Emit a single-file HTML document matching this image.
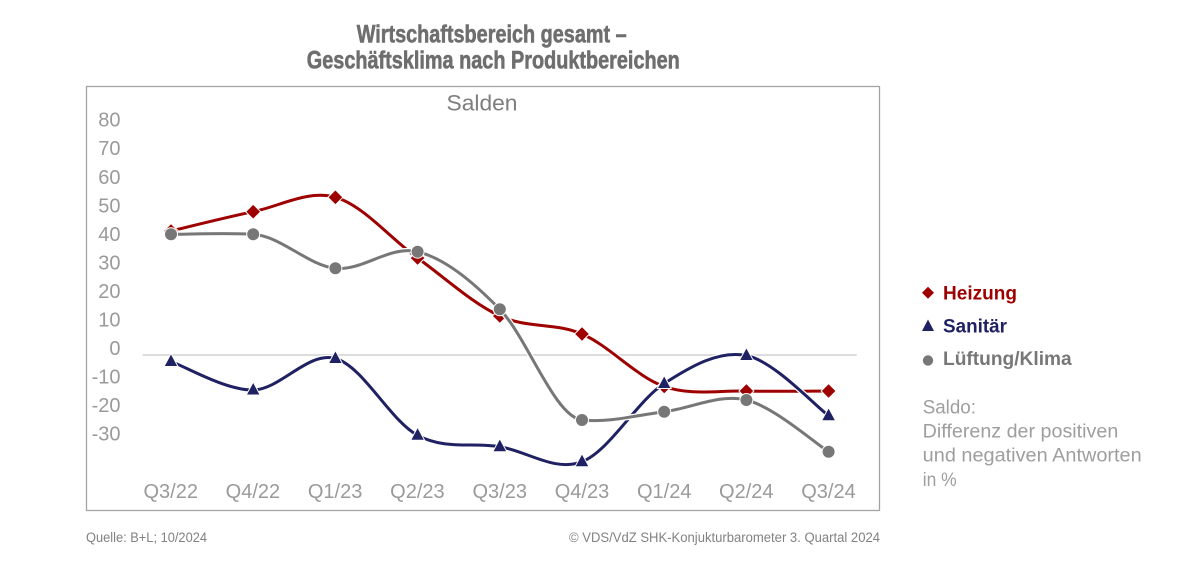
<!DOCTYPE html>
<html>
<head>
<meta charset="utf-8">
<style>
  html, body { margin:0; padding:0; background:#ffffff; }
  body { width:1200px; height:566px; overflow:hidden; }
  svg { display:block; }
  text { font-family: "Liberation Sans", "DejaVu Sans", sans-serif; }
</style>
</head>
<body>
<svg width="1200" height="566" viewBox="0 0 1200 566" xmlns="http://www.w3.org/2000/svg">
  <rect x="0" y="0" width="1200" height="566" fill="#ffffff"/>

  <!-- Title -->
  <text x="491.7" y="42.3" text-anchor="middle" font-size="25" font-weight="bold" fill="#6e6e6e" stroke="#6e6e6e" stroke-width="0.6" textLength="270" lengthAdjust="spacingAndGlyphs">Wirtschaftsbereich gesamt –</text>
  <text x="493.3" y="68.3" text-anchor="middle" font-size="25" font-weight="bold" fill="#6e6e6e" stroke="#6e6e6e" stroke-width="0.6" textLength="373" lengthAdjust="spacingAndGlyphs">Geschäftsklima nach Produktbereichen</text>

  <!-- Plot box -->
  <rect x="86.5" y="86.5" width="793" height="424" fill="none" stroke="#a3a3a3" stroke-width="1.3"/>

  <!-- Subtitle -->
  <text x="482" y="110.5" text-anchor="middle" font-size="22" fill="#7e7e7e" textLength="71" lengthAdjust="spacingAndGlyphs">Salden</text>

  <!-- Y axis labels -->
  <g font-size="20" fill="#9a9a9a" text-anchor="end">
    <text x="120.5" y="126.7">80</text>
    <text x="120.5" y="155.2">70</text>
    <text x="120.5" y="183.8">60</text>
    <text x="120.5" y="212.3">50</text>
    <text x="120.5" y="240.9">40</text>
    <text x="120.5" y="269.4">30</text>
    <text x="120.5" y="298">20</text>
    <text x="120.5" y="326.5">10</text>
    <text x="120.5" y="355">0</text>
    <text x="120.5" y="383.5">-10</text>
    <text x="120.5" y="412.1">-20</text>
    <text x="120.5" y="440.6">-30</text>
  </g>

  <!-- Zero line -->
  <line x1="142.7" y1="355" x2="856.7" y2="355" stroke="#dcdcdc" stroke-width="2"/>

  <!-- X axis labels -->
  <g font-size="20" fill="#9a9a9a" text-anchor="middle">
    <text x="170.7" y="498">Q3/22</text>
    <text x="252.9" y="498">Q4/22</text>
    <text x="335.1" y="498">Q1/23</text>
    <text x="417.4" y="498">Q2/23</text>
    <text x="499.7" y="498">Q3/23</text>
    <text x="582" y="498">Q4/23</text>
    <text x="664.2" y="498">Q1/24</text>
    <text x="746.3" y="498">Q2/24</text>
    <text x="828.5" y="498">Q3/24</text>
  </g>

  <!-- Heizung (red) -->
  <path d="M171,231 C184.7,227.78 225.8,217.32 253.2,211.7 C280.6,206.08 308,189.58 335.4,197.3 C362.8,205.02 390.2,238.22 417.6,258 C445,277.78 472.4,303.33 499.8,316 C527.2,328.67 554.6,322.25 582,334 C609.4,345.75 636.8,377 664.2,386.5 C691.6,396 719,390.25 746.4,391 C773.8,391.75 814.9,391 828.6,391" fill="none" stroke="#ffffff" stroke-width="5.5" stroke-linecap="round"/>
  <path d="M171,231 C184.7,227.78 225.8,217.32 253.2,211.7 C280.6,206.08 308,189.58 335.4,197.3 C362.8,205.02 390.2,238.22 417.6,258 C445,277.78 472.4,303.33 499.8,316 C527.2,328.67 554.6,322.25 582,334 C609.4,345.75 636.8,377 664.2,386.5 C691.6,396 719,390.25 746.4,391 C773.8,391.75 814.9,391 828.6,391" fill="none" stroke="#9e0000" stroke-width="3" stroke-linecap="round"/>
  <g fill="#9e0000" stroke="#ffffff" stroke-width="1">
    <polygon points="171,223.5 178.5,231 171,238.5 163.5,231"/>
    <polygon points="253.2,204.2 260.7,211.7 253.2,219.2 245.7,211.7"/>
    <polygon points="335.4,189.8 342.9,197.3 335.4,204.8 327.9,197.3"/>
    <polygon points="417.6,250.5 425.1,258 417.6,265.5 410.1,258"/>
    <polygon points="499.8,308.5 507.3,316 499.8,323.5 492.3,316"/>
    <polygon points="582,326.5 589.5,334 582,341.5 574.5,334"/>
    <polygon points="664.2,379 671.7,386.5 664.2,394 656.7,386.5"/>
    <polygon points="746.4,383.5 753.9,391 746.4,398.5 738.9,391"/>
    <polygon points="828.6,383.5 836.1,391 828.6,398.5 821.1,391"/>
  </g>

  <!-- Sanitär (navy) -->
  <path d="M171,361.5 C184.7,366.25 225.8,390.5 253.2,390 C280.6,389.5 308,350.95 335.4,358.5 C362.8,366.05 390.2,420.6 417.6,435.3 C445,450 472.4,442.3 499.8,446.7 C527.2,451.1 554.6,472.23 582,461.7 C609.4,451.17 636.8,401.2 664.2,383.5 C691.6,365.8 719,350.13 746.4,355.5 C773.8,360.87 814.9,405.67 828.6,415.7" fill="none" stroke="#ffffff" stroke-width="5.5" stroke-linecap="round"/>
  <path d="M171,361.5 C184.7,366.25 225.8,390.5 253.2,390 C280.6,389.5 308,350.95 335.4,358.5 C362.8,366.05 390.2,420.6 417.6,435.3 C445,450 472.4,442.3 499.8,446.7 C527.2,451.1 554.6,472.23 582,461.7 C609.4,451.17 636.8,401.2 664.2,383.5 C691.6,365.8 719,350.13 746.4,355.5 C773.8,360.87 814.9,405.67 828.6,415.7" fill="none" stroke="#1f2163" stroke-width="3" stroke-linecap="round"/>
  <g fill="#1f2163" stroke="#ffffff" stroke-width="1">
    <polygon points="171,353.5 178,366.5 164,366.5"/>
    <polygon points="253.2,382 260.2,395 246.2,395"/>
    <polygon points="335.4,350.5 342.4,363.5 328.4,363.5"/>
    <polygon points="417.6,427.3 424.6,440.3 410.6,440.3"/>
    <polygon points="499.8,438.7 506.8,451.7 492.8,451.7"/>
    <polygon points="582,453.7 589,466.7 575,466.7"/>
    <polygon points="664.2,375.5 671.2,388.5 657.2,388.5"/>
    <polygon points="746.4,347.5 753.4,360.5 739.4,360.5"/>
    <polygon points="828.6,407.7 835.6,420.7 821.6,420.7"/>
  </g>

  <!-- Lüftung/Klima (gray) -->
  <path d="M171,234.3 C184.7,234.3 225.8,232.8 253.2,234.3 C280.6,235.8 308,265.4 335.4,268.3 C362.8,271.2 390.2,244.87 417.6,251.7 C445,258.53 472.4,281.25 499.8,309.3 C527.2,337.35 554.6,417 582,420 C609.4,423 636.8,415.03 664.2,411.7 C691.6,408.37 719,393.33 746.4,400 C773.8,406.67 814.9,443.08 828.6,451.7" fill="none" stroke="#ffffff" stroke-width="5.5" stroke-linecap="round"/>
  <path d="M171,234.3 C184.7,234.3 225.8,232.8 253.2,234.3 C280.6,235.8 308,265.4 335.4,268.3 C362.8,271.2 390.2,244.87 417.6,251.7 C445,258.53 472.4,281.25 499.8,309.3 C527.2,337.35 554.6,417 582,420 C609.4,423 636.8,415.03 664.2,411.7 C691.6,408.37 719,393.33 746.4,400 C773.8,406.67 814.9,443.08 828.6,451.7" fill="none" stroke="#777777" stroke-width="3" stroke-linecap="round"/>
  <g fill="#777777" stroke="#ffffff" stroke-width="1">
    <circle cx="171" cy="234.3" r="6.5"/>
    <circle cx="253.2" cy="234.3" r="6.5"/>
    <circle cx="335.4" cy="268.3" r="6.5"/>
    <circle cx="417.6" cy="251.7" r="6.5"/>
    <circle cx="499.8" cy="309.3" r="6.5"/>
    <circle cx="582" cy="420" r="6.5"/>
    <circle cx="664.2" cy="411.7" r="6.5"/>
    <circle cx="746.4" cy="400" r="6.5"/>
    <circle cx="828.6" cy="451.7" r="6.5"/>
  </g>

  <!-- Legend -->
  <polygon points="928,286.7 934,292.7 928,298.7 922,292.7" fill="#9e0000"/>
  <text x="943" y="299.5" font-size="19" font-weight="bold" fill="#9e0000" textLength="74" lengthAdjust="spacingAndGlyphs">Heizung</text>
  <polygon points="928,319.5 934,331 922,331" fill="#1f2163"/>
  <text x="943" y="332.3" font-size="19" font-weight="bold" fill="#1f2163" textLength="64" lengthAdjust="spacingAndGlyphs">Sanitär</text>
  <circle cx="928" cy="360.5" r="5.2" fill="#777777"/>
  <text x="943" y="365" font-size="19" font-weight="bold" fill="#777777" textLength="128.7" lengthAdjust="spacingAndGlyphs">Lüftung/Klima</text>

  <!-- Note -->
  <g font-size="19.5" fill="#9e9e9e">
    <text x="922.7" y="413.3" textLength="53.3" lengthAdjust="spacingAndGlyphs">Saldo:</text>
    <text x="922.7" y="437.5" textLength="195.6" lengthAdjust="spacingAndGlyphs">Differenz der positiven</text>
    <text x="922.7" y="461.7" textLength="219" lengthAdjust="spacingAndGlyphs">und negativen Antworten</text>
    <text x="922.7" y="485.8" textLength="34" lengthAdjust="spacingAndGlyphs">in %</text>
  </g>

  <!-- Footer -->
  <text x="86" y="542" font-size="13.5" fill="#828282" textLength="121" lengthAdjust="spacingAndGlyphs">Quelle: B+L; 10/2024</text>
  <text x="880" y="542" font-size="13.5" fill="#828282" text-anchor="end" textLength="311" lengthAdjust="spacingAndGlyphs">© VDS/VdZ SHK-Konjukturbarometer 3. Quartal 2024</text>
</svg>
</body>
</html>
